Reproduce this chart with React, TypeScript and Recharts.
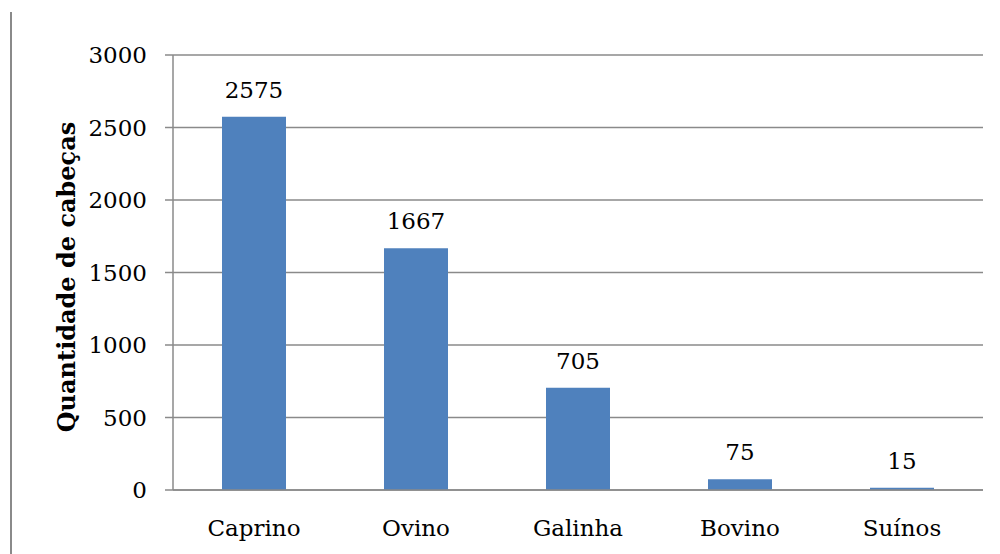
import { BarChart, Bar, XAxis, YAxis, CartesianGrid, LabelList } from "recharts";

// ---------------------------------------------------------------------------
// Data
// ---------------------------------------------------------------------------

const categories = ["Caprino", "Ovino", "Galinha", "Bovino", "Suínos"];
const heads = [2575, 1667, 705, 75, 15];
const yTicks = [0, 500, 1000, 1500, 2000, 2500, 3000];

const data = categories.map((name, i) => ({ name, value: heads[i] }));

const FONT = "'DejaVu Serif', serif";
const GRID = "#8a8a8a";
const BAR = "#4f81bd";

const YLabel = () => (
  <text
    x={66}
    y={277}
    transform="rotate(-90, 66, 277)"
    textAnchor="middle"
    dominantBaseline="central"
    fontFamily={FONT}
    fontWeight="bold"
    fontSize={24}
    fill="#000"
  >
    Quantidade de cabeças
  </text>
);

export default function App() {
  return (
    <div style={{ position: "absolute", left: 0, top: 0, width: 1000, height: 554, background: "#fff" }}>
      <div
        style={{
          position: "absolute",
          left: 10,
          top: 12,
          width: 2,
          height: 542,
          background: GRID,
        }}
      />
      <BarChart
        width={1000}
        height={554}
        data={data}
        margin={{ top: 55, right: 17, bottom: 0, left: 93 }}
      >
        <CartesianGrid vertical={false} stroke={GRID} strokeWidth={1.5} />
        <XAxis
          dataKey="name"
          height={64}
          tickLine={false}
          tickSize={0}
          tickMargin={30}
          axisLine={{ stroke: GRID, strokeWidth: 1.5 }}
          tick={{ fontFamily: FONT, fontSize: 23, fill: "#000" }}
        />
        <YAxis
          width={80}
          domain={[0, 3000]}
          ticks={yTicks}
          interval={0}
          tickSize={8}
          tickMargin={18}
          axisLine={{ stroke: GRID, strokeWidth: 1.5 }}
          tickLine={{ stroke: GRID, strokeWidth: 1.5 }}
          tick={{ fontFamily: FONT, fontSize: 23, fill: "#000" }}
          label={<YLabel />}
        />
        <Bar dataKey="value" fill={BAR} barSize={64} isAnimationActive={false}>
          <LabelList
            dataKey="value"
            position="top"
            offset={19}
            style={{ fontFamily: FONT, fontSize: 23, fill: "#000" }}
          />
        </Bar>
      </BarChart>
    </div>
  );
}
